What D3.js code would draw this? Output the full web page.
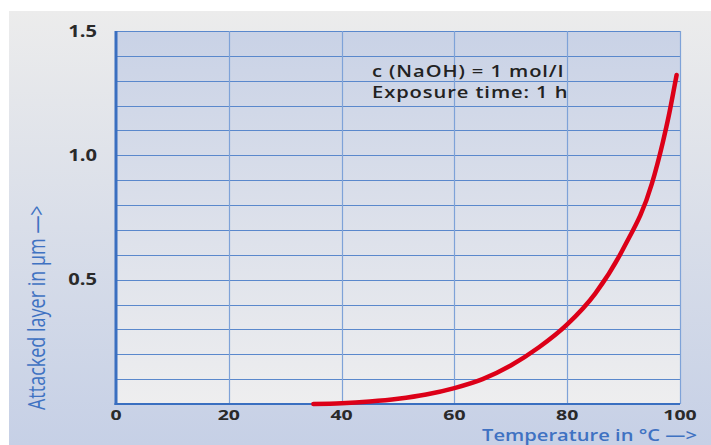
<!DOCTYPE html>
<html>
<head>
<meta charset="utf-8">
<script src="https://cdn.jsdelivr.net/npm/d3@7"></script>
<style>
	body { margin: 0; background: #fff; }
	text { font-family: "Open Sans", sans-serif; }
</style>
</head>
<body>
<div id="chart"></div>
<script>
// Data
var temps = [35, 40, 45, 50, 55, 60, 65, 70, 75, 80, 85, 90, 95, 97, 98, 99, 99.4];
var layer = [0.0, 0.003, 0.01, 0.021, 0.038, 0.064, 0.1, 0.155, 0.228, 0.32, 0.445, 0.627, 0.885, 1.057, 1.158, 1.275, 1.323];
var xTicks = [0, 20, 40, 60, 80, 100];
var yTicks = [0.5, 1.0, 1.5];
var notes = ["c (NaOH) = 1 mol/l", "Exposure time: 1 h"];

var width = 711,
	height = 445,
	svg, x, y;

// the original picture is stretched sideways, so the text is too
var stretch = 1.3;

var margin = { left: 116, right: 31, top: 31, bottom: 41 };

function init() {
	svg = d3.select("#chart")
		.append("svg")
		.attr("width", width)
		.attr("height", height);

	x = d3.scaleLinear().domain([0, 100]).range([margin.left, width - margin.right]);
	y = d3.scaleLinear().domain([0, 1.5]).range([height - margin.bottom, margin.top]);

	drawBackground();
	drawGrid();
	drawCurve();
	drawText();
}

function drawBackground() {
	var defs = svg.append("defs");
	var outer = defs.append("linearGradient").attr("id", "outerGrad")
		.attr("x1", 0).attr("y1", 0).attr("x2", 0).attr("y2", 1);
	outer.append("stop").attr("offset", "0%").attr("stop-color", "#ececec");
	outer.append("stop").attr("offset", "100%").attr("stop-color", "#c6d0e6");

	var inner = defs.append("linearGradient").attr("id", "innerGrad")
		.attr("x1", 0).attr("y1", 0).attr("x2", 0).attr("y2", 1);
	inner.append("stop").attr("offset", "0%").attr("stop-color", "#c9d2e6");
	inner.append("stop").attr("offset", "100%").attr("stop-color", "#eeeeef");

	svg.append("rect")
		.attr("x", 9).attr("y", 11)
		.attr("width", width - 9).attr("height", height - 11)
		.attr("fill", "url(#outerGrad)");

	svg.append("rect")
		.attr("x", x(0)).attr("y", y(1.5))
		.attr("width", x(100) - x(0)).attr("height", y(0) - y(1.5))
		.attr("fill", "url(#innerGrad)");
}

function drawGrid() {
	var g = svg.append("g");
	var hLines = d3.range(1, 16).map(function(d) { return d / 10; });
	g.selectAll(".hgrid")
		.data(hLines)
		.enter().append("line")
		.attr("x1", x(0)).attr("x2", x(100))
		.attr("y1", function(d) { return Math.round(y(d)) + 0.5; })
		.attr("y2", function(d) { return Math.round(y(d)) + 0.5; })
		.attr("stroke", "#5a88cc")
		.attr("stroke-width", 1.2);

	g.selectAll(".vgrid")
		.data(xTicks.slice(1))
		.enter().append("line")
		.attr("x1", function(d) { return Math.round(x(d)) + 0.5; })
		.attr("x2", function(d) { return Math.round(x(d)) + 0.5; })
		.attr("y1", y(1.5)).attr("y2", y(0))
		.attr("stroke", "#7ea2d8")
		.attr("stroke-width", 1.2);

	// axes lines
	g.append("line")
		.attr("x1", x(0)).attr("x2", x(0))
		.attr("y1", y(1.5)).attr("y2", y(0) + 1)
		.attr("stroke", "#3a6fc0").attr("stroke-width", 3);
	g.append("line")
		.attr("x1", x(0) - 1.5).attr("x2", x(100))
		.attr("y1", y(0)).attr("y2", y(0))
		.attr("stroke", "#3a6fc0").attr("stroke-width", 2);
}

function drawCurve() {
	var pts = temps.map(function(t, i) { return [t, layer[i]]; });
	var line = d3.line()
		.x(function(d) { return x(d[0]); })
		.y(function(d) { return y(d[1]); })
		.curve(d3.curveMonotoneX);

	svg.append("path")
		.datum(pts)
		.attr("d", line)
		.attr("fill", "none")
		.attr("stroke", "#dc0018")
		.attr("stroke-width", 4.5)
		.attr("stroke-linecap", "round");
}

function drawText() {
	svg.selectAll(".ylab")
		.data(yTicks)
		.enter().append("text")
		.attr("transform", function(d) { return "translate(97," + (y(d) + 5.5) + ") scale(" + stretch + ",1)"; })
		.attr("text-anchor", "end")
		.attr("font-size", 15.5)
		.attr("font-weight", "bold")
		.attr("fill", "#2a2a2a")
		.text(function(d) { return d3.format(".1f")(d); });

	svg.selectAll(".xlab")
		.data(xTicks)
		.enter().append("text")
		.attr("transform", function(d) { return "translate(" + x(d) + ",420) scale(" + stretch + ",1)"; })
		.attr("text-anchor", "middle")
		.attr("font-size", 15)
		.attr("font-weight", "bold")
		.attr("fill", "#2a2a2a")
		.text(function(d) { return d; });

	svg.append("text")
		.attr("transform", "translate(697,441) scale(" + stretch + ",1)")
		.attr("text-anchor", "end")
		.attr("font-size", 15.5)
		.attr("font-weight", 600)
		.attr("fill", "#3f72c2")
		.text("Temperature in °C —>");

	svg.append("text")
		.attr("transform", "translate(45,410) rotate(-90) scale(1," + stretch + ")")
		.attr("text-anchor", "start")
		.attr("font-size", 18)
		.attr("fill", "#3f72c2")
		.text("Attacked layer in µm —>");

	svg.selectAll(".note")
		.data(notes)
		.enter().append("text")
		.attr("transform", function(d, i) { return "translate(372," + (77 + i * 21) + ") scale(" + stretch + ",1)"; })
		.attr("font-size", 15.5)
		.attr("font-weight", 600)
		.attr("letter-spacing", 0.7)
		.attr("fill", "#222")
		.text(function(d) { return d; });
}

window.onload = init;
</script>
</body>
</html>
